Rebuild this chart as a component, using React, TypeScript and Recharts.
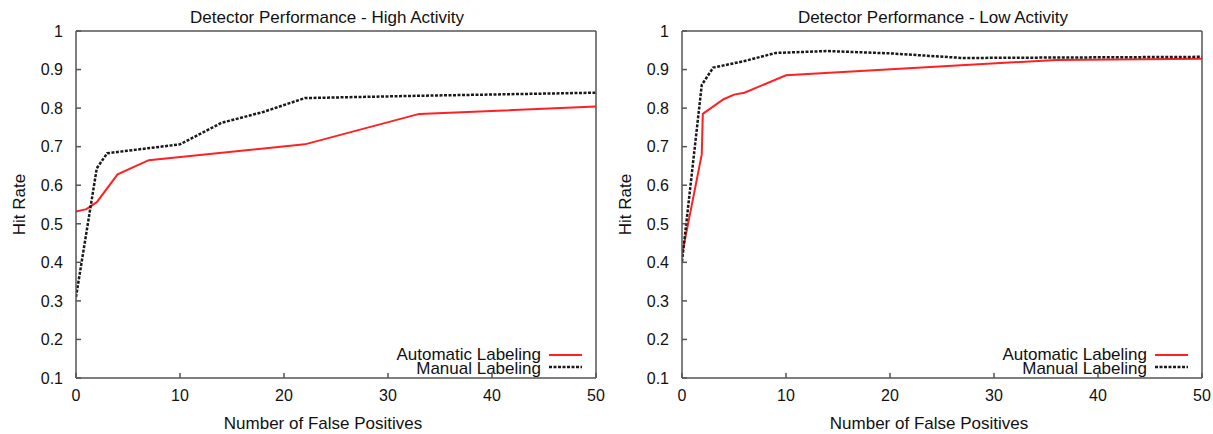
import { LineChart, Line, XAxis, YAxis, Legend } from 'recharts'

// axis ticks
const xTicks = [0, 10, 20, 30, 40, 50]
const yTicks = [0.1, 0.2, 0.3, 0.4, 0.5, 0.6, 0.7, 0.8, 0.9, 1]

// High activity panel
const highAutoX = [0, 1, 2, 4, 7, 22, 33, 50]
const highAutoY = [0.532, 0.538, 0.556, 0.628, 0.665, 0.706, 0.785, 0.804]
const highManualX = [0, 2, 3, 10, 14, 18, 22, 33, 50]
const highManualY = [0.31, 0.644, 0.683, 0.706, 0.762, 0.79, 0.826, 0.832, 0.84]

// Low activity panel
const lowAutoX = [0, 1.9, 2, 4, 5, 6, 10, 36, 50]
const lowAutoY = [0.42, 0.68, 0.785, 0.823, 0.835, 0.84, 0.885, 0.925, 0.928]
const lowManualX = [0, 1.9, 3, 6, 9, 14, 20, 27, 50]
const lowManualY = [0.402, 0.86, 0.905, 0.922, 0.943, 0.948, 0.942, 0.93, 0.933]

const seriesNames = ['Automatic Labeling', 'Manual Labeling']

type Pt = { x: number; y: number }
const toPoints = (xs: number[], ys: number[]): Pt[] => xs.map((x, i) => ({ x, y: ys[i] }))

const FONT = '"Liberation Sans", Arial, Helvetica, sans-serif'
const AXIS = '#555'
const TEXT = '#111'
const RED = '#ff2020'
const DARK = '#1a1a1a'
const DASH = '3 1.5'
const TICK_FONT = 16
const tickLine = { stroke: AXIS, strokeWidth: 1.5 }

type TickProps = { x?: number; y?: number; payload?: { value: number } }

const BottomTick = ({ x = 0, y = 0, payload }: TickProps) => (
  <text x={x} y={y} dy="0.71em" textAnchor="middle" fontSize={TICK_FONT} fill={TEXT} fontFamily={FONT}>
    {String(payload?.value)}
  </text>
)

const LeftTick = ({ x = 0, y = 0, payload }: TickProps) => (
  <text x={x} y={y} dy="0.36em" textAnchor="end" fontSize={TICK_FONT} fill={TEXT} fontFamily={FONT}>
    {String(payload?.value)}
  </text>
)

function LegendBox() {
  return (
    <svg width={220} height={40} style={{ overflow: 'visible' }}>
      <text x={161} y={19} textAnchor="end" fontSize={17} fill={TEXT} fontFamily={FONT}>
        {seriesNames[0]}
      </text>
      <line x1={169} x2={202} y1={14} y2={14} stroke={RED} strokeWidth={2} />
      <text x={161} y={33} textAnchor="end" fontSize={17} fill={TEXT} fontFamily={FONT}>
        {seriesNames[1]}
      </text>
      <line x1={169} x2={202} y1={26} y2={26} stroke={DARK} strokeWidth={2.5} strokeDasharray={DASH} />
    </svg>
  )
}

function DetectorChart({ title, auto, manual }: { title: string; auto: Pt[]; manual: Pt[] }) {
  return (
    <LineChart width={606} height={434} margin={{ top: 30, right: 9, bottom: 0, left: 0 }}>
      <XAxis
        xAxisId="b"
        type="number"
        dataKey="x"
        domain={[0, 50]}
        ticks={xTicks}
        interval={0}
        allowDataOverflow
        height={56}
        stroke={AXIS}
        strokeWidth={1.5}
        tickSize={-5}
        tickMargin={17}
        tickLine={tickLine}
        tick={<BottomTick />}
        label={{ value: 'Number of False Positives', position: 'insideBottom', offset: 5, dx: -13, fill: TEXT, fontSize: 17 }}
      />
      {/* mirrored top/right axes close the frame, with inward ticks only */}
      <XAxis
        xAxisId="t"
        orientation="top"
        type="number"
        dataKey="x"
        domain={[0, 50]}
        ticks={xTicks}
        interval={0}
        allowDataOverflow
        height={1}
        stroke={AXIS}
        strokeWidth={1.5}
        tickSize={-5}
        tickLine={tickLine}
        tick={false}
        label={{ value: title, position: 'top', offset: 7, dx: -9, fill: TEXT, fontSize: 17 }}
      />
      <YAxis
        yAxisId="l"
        type="number"
        domain={[0.1, 1]}
        ticks={yTicks}
        interval={0}
        allowDataOverflow
        width={76}
        stroke={AXIS}
        strokeWidth={1.5}
        tickSize={-5}
        tickMargin={18}
        tickLine={tickLine}
        tick={<LeftTick />}
        label={{ value: 'Hit Rate', angle: -90, position: 'insideLeft', offset: 19, fill: TEXT, fontSize: 17, style: { textAnchor: 'middle' } }}
      />
      <YAxis
        yAxisId="r"
        orientation="right"
        type="number"
        domain={[0.1, 1]}
        ticks={yTicks}
        interval={0}
        allowDataOverflow
        width={1}
        stroke={AXIS}
        strokeWidth={1.5}
        tickSize={-5}
        tickLine={tickLine}
        tick={false}
      />
      <Line
        xAxisId="b"
        yAxisId="l"
        data={auto}
        dataKey="y"
        name={seriesNames[0]}
        type="linear"
        stroke={RED}
        strokeWidth={2}
        dot={false}
        isAnimationActive={false}
      />
      <Line
        xAxisId="t"
        yAxisId="r"
        data={manual}
        dataKey="y"
        name={seriesNames[1]}
        type="linear"
        stroke={DARK}
        strokeWidth={2.5}
        strokeDasharray={DASH}
        dot={false}
        isAnimationActive={false}
      />
      <Legend
        layout="horizontal"
        verticalAlign="middle"
        align="center"
        content={() => <LegendBox />}
        wrapperStyle={{ position: 'absolute', left: 380, top: 341, width: 220, height: 40 }}
      />
    </LineChart>
  )
}

export default function App() {
  return (
    <div
      style={{
        position: 'absolute',
        left: 0,
        top: 0,
        width: 1213,
        height: 434,
        background: '#fff',
        display: 'flex',
        fontFamily: FONT,
      }}
    >
      <DetectorChart
        title="Detector Performance - High Activity"
        auto={toPoints(highAutoX, highAutoY)}
        manual={toPoints(highManualX, highManualY)}
      />
      <DetectorChart
        title="Detector Performance - Low Activity"
        auto={toPoints(lowAutoX, lowAutoY)}
        manual={toPoints(lowManualX, lowManualY)}
      />
    </div>
  )
}
